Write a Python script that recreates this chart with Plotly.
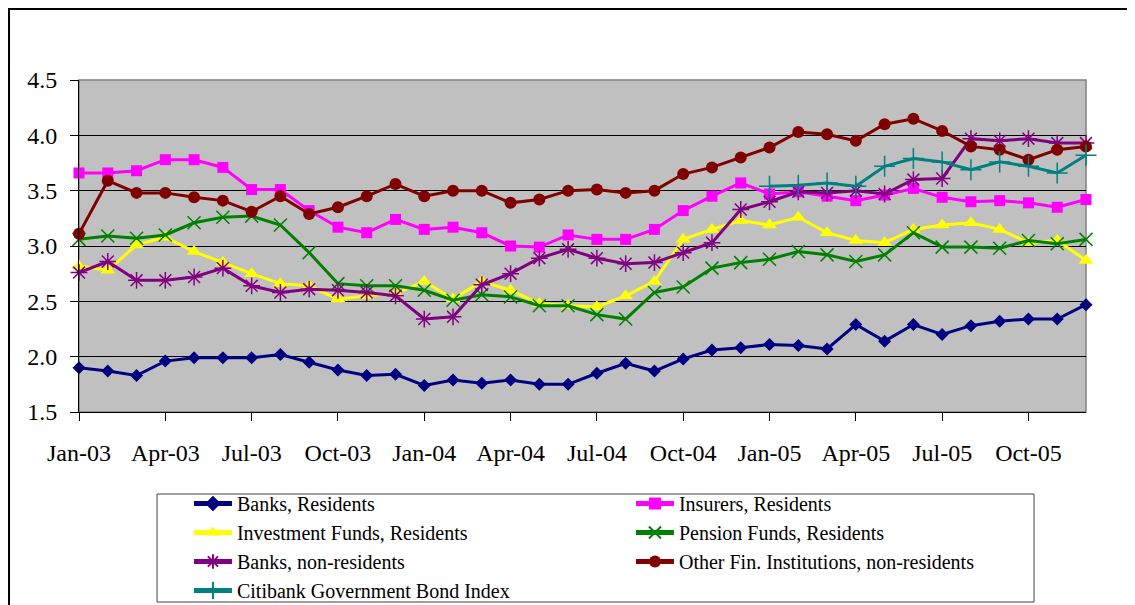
import pandas as pd
import plotly.graph_objects as go

MONTHS = pd.date_range("2003-01-01", "2005-12-01", freq="MS").strftime("%b-%y").tolist()
TICK_LABELS = ["Jan-03", "Apr-03", "Jul-03", "Oct-03", "Jan-04", "Apr-04",
               "Jul-04", "Oct-04", "Jan-05", "Apr-05", "Jul-05", "Oct-05"]

BANKS_RES = [1.90, 1.87, 1.83, 1.96, 1.99, 1.99, 1.99, 2.02, 1.95, 1.88, 1.83, 1.84,
             1.74, 1.79, 1.76, 1.79, 1.75, 1.75, 1.85, 1.94, 1.87, 1.98, 2.06, 2.08,
             2.11, 2.10, 2.07, 2.29, 2.14, 2.29, 2.20, 2.28, 2.32, 2.34, 2.34, 2.47]
INSURERS_RES = [3.66, 3.66, 3.68, 3.78, 3.78, 3.71, 3.51, 3.51, 3.32, 3.17, 3.12, 3.24,
                3.15, 3.17, 3.12, 3.00, 2.99, 3.10, 3.06, 3.06, 3.15, 3.32, 3.45, 3.57,
                3.47, 3.49, 3.45, 3.41, 3.46, 3.52, 3.44, 3.40, 3.41, 3.39, 3.35, 3.42]
INVEST_RES = [2.82, 2.78, 3.01, 3.08, 2.95, 2.85, 2.75, 2.66, 2.64, 2.52, 2.55, 2.57,
              2.68, 2.52, 2.68, 2.60, 2.48, 2.46, 2.45, 2.55, 2.68, 3.06, 3.15, 3.23,
              3.19, 3.26, 3.12, 3.05, 3.03, 3.15, 3.19, 3.21, 3.15, 3.03, 3.05, 2.87]
PENSION_RES = [3.06, 3.09, 3.07, 3.10, 3.21, 3.26, 3.27, 3.19, 2.94, 2.66, 2.64, 2.64,
               2.60, 2.51, 2.56, 2.54, 2.46, 2.46, 2.38, 2.34, 2.58, 2.63, 2.80, 2.85,
               2.88, 2.95, 2.92, 2.86, 2.92, 3.12, 2.99, 2.99, 2.98, 3.05, 3.02, 3.06]
BANKS_NONRES = [2.76, 2.86, 2.69, 2.69, 2.72, 2.80, 2.64, 2.58, 2.61, 2.60, 2.58, 2.55,
                2.34, 2.36, 2.65, 2.75, 2.89, 2.97, 2.89, 2.84, 2.85, 2.94, 3.03, 3.33,
                3.40, 3.49, 3.48, 3.50, 3.47, 3.60, 3.61, 3.97, 3.95, 3.97, 3.93, 3.93]
OTHER_FIN_NONRES = [3.11, 3.59, 3.48, 3.48, 3.44, 3.41, 3.31, 3.45, 3.29, 3.35, 3.45, 3.56,
                    3.45, 3.50, 3.50, 3.39, 3.42, 3.50, 3.51, 3.48, 3.50, 3.65, 3.71, 3.80,
                    3.89, 4.03, 4.01, 3.95, 4.10, 4.15, 4.04, 3.90, 3.87, 3.78, 3.87, 3.90]
CITI_MONTHS = MONTHS[24:]
CITI_INDEX = [3.54, 3.55, 3.57, 3.54, 3.72, 3.79, 3.76, 3.69, 3.76, 3.72, 3.66, 3.82]

FONT = "Liberation Serif, Times New Roman, serif"

# name, x, y, colour, symbol, size
SERIES = [
    ("Banks, Residents", MONTHS, BANKS_RES, "#000080", "diamond", 10),
    ("Insurers, Residents", MONTHS, INSURERS_RES, "#FF00FF", "square", 11),
    ("Investment Funds, Residents", MONTHS, INVEST_RES, "#FFFF00", "triangle-up", 13),
    ("Pension Funds, Residents", MONTHS, PENSION_RES, "#008000", "x-thin", 13),
    ("Banks, non-residents", MONTHS, BANKS_NONRES, "#800080", "asterisk", 14),
    ("Other Fin. Institutions, non-residents", MONTHS, OTHER_FIN_NONRES, "#800000", "circle", 12),
    ("Citibank Government Bond Index", CITI_MONTHS, CITI_INDEX, "#008080", "cross-thin", 15),
]

fig = go.Figure()
for name, x, y, color, symbol, size in SERIES:
    thin = "thin" in symbol or symbol == "asterisk"
    fig.add_trace(go.Scatter(
        x=x, y=y, name=name, mode="lines+markers",
        line=dict(color=color, width=3),
        marker=dict(symbol=symbol, size=size, color=color,
                    line=dict(color=color, width=1.5 if thin else 0)),
        cliponaxis=False))

# plot-area frame, outer chart frame, legend box
fig.add_shape(type="rect", xref="paper", yref="paper", x0=0, x1=1, y0=0, y1=1,
              line=dict(color="#808080", width=1.5), layer="below")
fig.add_shape(type="rect", xref="paper", yref="paper", x0=-0.0695, x1=1.2, y0=-0.8, y1=1.2139,
              line=dict(color="black", width=2))
fig.add_shape(type="rect", xref="paper", yref="paper", x0=0.0775, x1=0.9484, y0=-0.5723, y1=-0.2470,
              line=dict(color="#404040", width=1), fillcolor="white", layer="below")

fig.update_xaxes(type="category", categoryorder="array", categoryarray=MONTHS,
                 range=[0, len(MONTHS) - 1], tickmode="array",
                 tickvals=TICK_LABELS, ticktext=TICK_LABELS,
                 ticks="outside", ticklen=8, tickcolor="black", tickwidth=1,
                 showline=True, linecolor="black", linewidth=1,
                 showgrid=False, zeroline=False, ticklabelstandoff=11,
                 tickfont=dict(family=FONT, size=24, color="black"))
fig.update_yaxes(range=[1.5, 4.5], dtick=0.5, tickformat=".1f",
                 ticks="outside", ticklen=8, tickcolor="black", tickwidth=1,
                 showline=True, linecolor="black", linewidth=1,
                 showgrid=True, gridcolor="black", gridwidth=1, zeroline=False,
                 ticklabelstandoff=8,
                 tickfont=dict(family=FONT, size=24, color="black"))

fig.update_layout(
    width=1127, height=597, autosize=False,
    margin=dict(l=71, r=49, t=72, b=193, autoexpand=False),
    paper_bgcolor="white", plot_bgcolor="#C0C0C0",
    font=dict(family=FONT, size=20, color="black"),
    showlegend=True,
    legend=dict(orientation="h", x=0.1092, xanchor="left", y=-0.2169, yanchor="top",
                entrywidth=389, entrywidthmode="pixels", itemwidth=38,
                bgcolor="rgba(0,0,0,0)", borderwidth=0,
                font=dict(family=FONT, size=20, color="black"),
                itemsizing="constant", traceorder="normal"),
)

fig.write_html("out.html")
